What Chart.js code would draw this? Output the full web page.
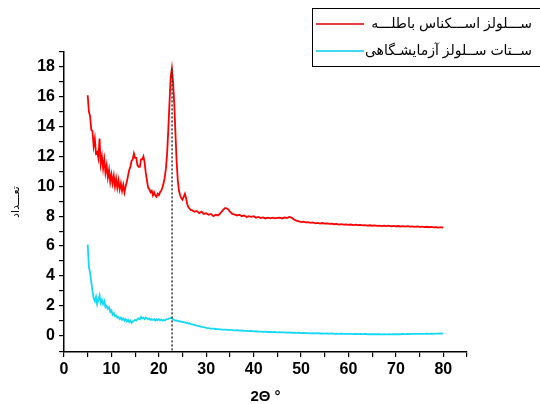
<!DOCTYPE html>
<html>
<head>
<meta charset="utf-8">
<script src="https://cdn.jsdelivr.net/npm/chart.js@4.4.1/dist/chart.umd.min.js"></script>
<style>
  html, body { margin: 0; padding: 0; background: #fff; }
  #wrap { width: 540px; height: 404px; }
</style>
</head>
<body>
<div id="wrap"><canvas id="xrd" width="540" height="404"></canvas></div>
<script>
// زاویه 2θ
const angles = [
  5, 5.25, 5.5, 5.75, 6, 6.25, 6.5, 6.75, 7, 7.25, 7.5, 7.75,
  8, 8.25, 8.5, 8.75, 9, 9.25, 9.5, 9.75, 10, 10.25, 10.5, 10.75,
  11, 11.25, 11.5, 11.75, 12, 12.25, 12.5, 12.75, 13, 13.25, 13.5, 13.75,
  14, 14.25, 14.5, 14.75, 15, 15.25, 15.5, 15.75, 16, 16.25, 16.5, 16.75,
  17, 17.25, 17.5, 17.75, 18, 18.25, 18.5, 18.75, 19, 19.25, 19.5, 19.75,
  20, 20.25, 20.5, 20.75, 21, 21.25, 21.5, 21.75, 22, 22.25, 22.5, 22.75,
  23, 23.25, 23.5, 23.75, 24, 24.25, 24.5, 24.75, 25, 25.25, 25.5, 25.75,
  26, 26.25, 26.5, 26.75, 27,
  27.5, 28, 28.5, 29, 29.5, 30, 30.5, 31, 31.5, 32,
  32.5, 33, 33.5, 34, 34.5, 35, 35.5, 36, 36.5, 37,
  37.5, 38, 38.5, 39, 39.5, 40, 40.5, 41, 41.5, 42,
  42.5, 43, 43.5, 44, 44.5, 45, 45.5, 46, 46.5, 47,
  47.5, 48, 48.5, 49, 49.5, 50, 50.5, 51, 51.5, 52,
  52.5, 53, 53.5, 54, 54.5, 55, 55.5, 56, 56.5, 57,
  57.5, 58, 58.5, 59, 59.5, 60, 60.5, 61, 61.5, 62,
  62.5, 63, 63.5, 64, 64.5, 65, 65.5, 66, 66.5, 67,
  67.5, 68, 68.5, 69, 69.5, 70, 70.5, 71, 71.5, 72,
  72.5, 73, 73.5, 74, 74.5, 75, 75.5, 76, 76.5, 77,
  77.5, 78, 78.5, 79, 79.5, 80
];

// سلولز اسکناس باطله
const wasteCellulose = [
  16.1, 15.0, 14.7, 13.8, 13.7, 12.7, 13.2, 12.2, 12.3, 11.9, 13.2, 11.5,
  12.0, 11.2, 11.8, 10.9, 11.4, 10.6, 11.1, 10.3, 10.8, 10.2, 10.7, 10.0,
  10.5, 9.9, 10.4, 9.8, 10.2, 9.7, 10.1, 9.6, 10.0, 10.3, 10.7, 11.1,
  11.3, 11.7, 11.8, 12.2, 11.9, 11.9, 11.4, 11.3, 11.3, 11.8, 11.8, 12.0,
  11.6, 10.9, 10.4, 9.9, 9.8, 9.6, 9.7, 9.4, 9.6, 9.4, 9.3, 9.5,
  9.4, 9.6, 9.7, 9.9, 10.2, 10.6, 11.2, 12.2, 13.8, 15.6, 17.3, 17.9,
  17.0, 15.6, 13.6, 11.7, 10.4, 9.7, 9.4, 9.2, 9.1, 9.3, 9.5, 9.2,
  8.8, 8.6, 8.5, 8.4, 8.4,
  8.3, 8.35, 8.2, 8.3, 8.15, 8.2, 8.1, 8.15, 8.0, 8.1,
  8.05, 8.2, 8.4, 8.55, 8.5, 8.3, 8.15, 8.1, 8.05, 8.1,
  8.0, 8.05, 7.95, 8.0, 7.95, 8.0, 7.9, 7.95, 7.88, 7.92,
  7.85, 7.9, 7.86, 7.9, 7.85, 7.88, 7.9, 7.85, 7.92, 7.88,
  7.95, 7.9, 7.78, 7.7, 7.66, 7.6, 7.63, 7.58, 7.6, 7.55,
  7.58, 7.52, 7.55, 7.5, 7.54, 7.5, 7.52, 7.48, 7.5, 7.46,
  7.48, 7.44, 7.47, 7.43, 7.45, 7.42, 7.44, 7.4, 7.43, 7.4,
  7.42, 7.38, 7.4, 7.37, 7.39, 7.36, 7.38, 7.35, 7.37, 7.34,
  7.36, 7.33, 7.36, 7.32, 7.35, 7.32, 7.34, 7.31, 7.33, 7.3,
  7.33, 7.3, 7.32, 7.29, 7.31, 7.28, 7.3, 7.27, 7.29, 7.26,
  7.28, 7.25, 7.27, 7.24, 7.26, 7.23
];

// استات سلولز آزمایشگاهی
const labAcetate = [
  6.1, 4.6, 4.2, 3.6, 3.0, 2.5, 2.3, 2.6, 2.1, 2.4, 2.7, 2.2,
  2.4, 2.1, 2.3, 1.9, 2.0, 1.8, 1.9, 1.6, 1.7, 1.4, 1.5, 1.3,
  1.35, 1.2, 1.25, 1.1, 1.2, 1.05, 1.15, 1.0, 1.1, 0.95, 1.05, 0.9,
  1.0, 0.85, 0.95, 1.0, 1.05, 1.0, 1.1, 1.15, 1.1, 1.25, 1.15, 1.2,
  1.1, 1.2, 1.15, 1.1, 1.15, 1.05, 1.1, 1.05, 1.1, 1.0, 1.08, 1.03,
  1.1, 1.02, 1.08, 1.0, 1.05, 1.02, 1.08, 1.1, 1.12, 1.15, 1.2, 1.16,
  1.1, 1.05, 1.0, 1.02, 0.98, 0.95, 0.97, 0.92, 0.9, 0.92, 0.88, 0.85,
  0.86, 0.8, 0.82, 0.76, 0.75,
  0.72, 0.66, 0.63, 0.58, 0.56, 0.52, 0.5, 0.47, 0.46, 0.44,
  0.43, 0.42, 0.4, 0.4, 0.38, 0.38, 0.37, 0.35, 0.36, 0.33,
  0.34, 0.32, 0.32, 0.3, 0.31, 0.28, 0.29, 0.26, 0.27, 0.25,
  0.26, 0.24, 0.25, 0.23, 0.24, 0.22, 0.23, 0.21, 0.22, 0.2,
  0.21, 0.19, 0.2, 0.18, 0.19, 0.17, 0.18, 0.16, 0.17, 0.15,
  0.16, 0.15, 0.16, 0.14, 0.15, 0.13, 0.14, 0.13, 0.14, 0.12,
  0.13, 0.12, 0.13, 0.11, 0.12, 0.11, 0.12, 0.1, 0.11, 0.1,
  0.11, 0.1, 0.11, 0.09, 0.1, 0.09, 0.1, 0.09, 0.1, 0.08,
  0.1, 0.08, 0.09, 0.08, 0.1, 0.09, 0.1, 0.09, 0.11, 0.1,
  0.11, 0.1, 0.12, 0.11, 0.12, 0.11, 0.12, 0.12, 0.13, 0.12,
  0.13, 0.12, 0.13, 0.13, 0.14, 0.13
];

const seriesNames = ['ســـلولز اســـکناس باطلـــه', 'ســتات ســلولز آزمایشـگاهی'];
const seriesColors = ['#ff0000', '#14d8f5'];
const legendLineColors = ['#e00000', '#00ccee'];

// خط چین قله
const peakAngle = 22.8;
const peakTop = 17.9;

const toPoints = vals => vals.map((v, i) => ({ x: angles[i], y: v }));

const tickFont = { family: 'Liberation Sans, Arial, sans-serif', size: 16, weight: 'bold' };

const extras = {
  id: 'extras',
  afterDatasetsDraw(chart) {
    const c = chart.ctx;
    const xs = chart.scales.x, ys = chart.scales.y;
    // خط عمودی
    c.save();
    c.strokeStyle = '#333';
    c.lineWidth = 1.5;
    c.setLineDash([2, 2]);
    c.beginPath();
    c.moveTo(xs.getPixelForValue(peakAngle), ys.getPixelForValue(peakTop));
    c.lineTo(xs.getPixelForValue(peakAngle), ys.bottom);
    c.stroke();
    c.restore();
  },
  afterDraw(chart) {
    const c = chart.ctx;
    // راهنما
    c.save();
    c.strokeStyle = '#000';
    c.lineWidth = 1;
    c.strokeRect(312.5, 8.5, 240, 58);
    c.font = '14px "Liberation Sans", "DejaVu Sans", sans-serif';
    c.textAlign = 'right';
    c.textBaseline = 'middle';
    c.direction = 'rtl';
    const rows = [24, 51];
    seriesNames.forEach((name, i) => {
      c.strokeStyle = legendLineColors[i];
      c.lineWidth = 1.5;
      c.beginPath();
      c.moveTo(316, rows[i]);
      c.lineTo(364, rows[i]);
      c.stroke();
      c.fillStyle = '#000';
      c.fillText(name, 532, rows[i]);
    });
    c.restore();
  }
};

new Chart(document.getElementById('xrd').getContext('2d'), {
  type: 'line',
  data: {
    datasets: [
      { label: seriesNames[0], data: toPoints(wasteCellulose), borderColor: seriesColors[0], borderWidth: 1.8, pointRadius: 0, tension: 0 },
      { label: seriesNames[1], data: toPoints(labAcetate), borderColor: seriesColors[1], borderWidth: 1.8, pointRadius: 0, tension: 0 }
    ]
  },
  options: {
    responsive: false,
    animation: false,
    layout: { padding: { top: 52, right: 73, left: 0, bottom: 0 } },
    plugins: { legend: { display: false }, tooltip: { enabled: false } },
    scales: {
      x: {
        type: 'linear',
        min: 0,
        max: 85,
        afterFit: s => { s.height = 52; },
        border: { display: true, color: '#000', width: 1.5 },
        grid: { drawOnChartArea: false, drawTicks: true, tickLength: 5, color: '#000', lineWidth: 1.2 },
        ticks: {
          stepSize: 5,
          color: '#000',
          font: tickFont,
          padding: 3,
          maxRotation: 0,
          autoSkip: false,
          callback: v => (v % 10 === 0 && v <= 80 ? v : '')
        },
        title: {
          display: true,
          text: '2Θ °',
          color: '#000',
          font: { family: 'Liberation Sans, Arial, sans-serif', size: 15, weight: 'bold', lineHeight: 1 },
          padding: { top: 0, bottom: 0 }
        }
      },
      y: {
        min: -1.1,
        max: 19,
        afterFit: s => { s.width = 64; },
        border: { display: true, color: '#000', width: 1.5 },
        grid: { drawOnChartArea: false, drawTicks: true, tickLength: 5, color: '#000', lineWidth: 1.2 },
        ticks: {
          stepSize: 1,
          color: '#000',
          font: tickFont,
          padding: 4,
          autoSkip: false,
          callback: v => (Number.isInteger(v) && v % 2 === 0 ? v : '')
        },
        title: {
          display: true,
          text: 'تعـــداد',
          color: '#000',
          font: { family: 'DejaVu Sans, sans-serif', size: 11 },
          padding: { top: 10, bottom: 0 }
        }
      }
    }
  },
  plugins: [extras]
});
</script>
</body>
</html>
